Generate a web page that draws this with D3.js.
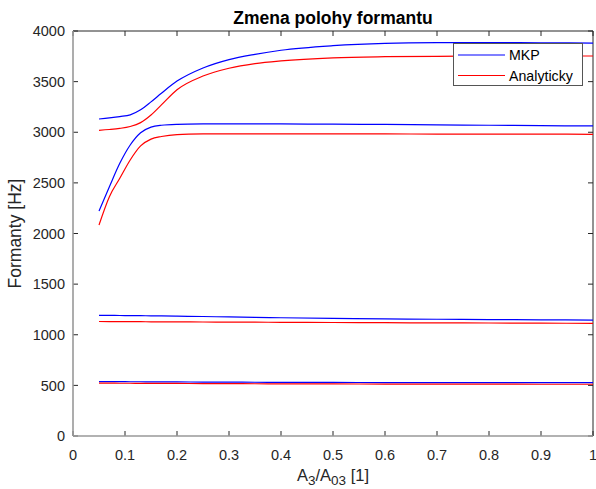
<!DOCTYPE html>
<html><head><meta charset="utf-8">
<script src="https://cdn.jsdelivr.net/npm/d3@7"></script>
<style>body{margin:0;background:#fff}svg{display:block;font-family:"Liberation Sans",Arial,sans-serif}</style>
</head><body><svg id="c" width="596" height="489"></svg>
<script>
const xs = [0.05,0.07,0.09,0.11,0.13,0.15,0.17,0.2,0.25,0.3,0.35,0.4,0.5,0.6,0.7,0.8,0.9,1.0];
// MKP (blue)
const mkpF1 = [538,537,537,536,536,535,535,534,533,532,531,530,529,528,528,527,527,527];
const mkpF2 = [1192,1191,1190,1189,1188,1187,1186,1184,1180,1176,1172,1168,1162,1157,1153,1150,1147,1145];
const mkpF3 = [2222,2462,2693,2874,2995,3050,3069,3078,3082,3083,3083,3082,3080,3077,3073,3069,3065,3062];
const mkpF4 = [3131,3142,3155,3172,3222,3300,3385,3505,3635,3718,3770,3810,3855,3878,3885,3886,3884,3881];
// Analyticky (red)
const anF1 = [522,522,521,521,520,520,519,519,518,517,516,515,514,513,512,512,511,511];
const anF2 = [1131,1130,1130,1129,1129,1128,1128,1127,1126,1125,1124,1123,1121,1119,1117,1116,1114,1113];
const anF3 = [2084,2364,2545,2726,2865,2932,2958,2977,2983,2984,2984,2984,2983,2983,2982,2982,2981,2980];
const anF4 = [3019,3027,3038,3057,3095,3170,3270,3420,3555,3632,3678,3705,3735,3746,3750,3752,3753,3753];
const xTicks = [0,0.1,0.2,0.3,0.4,0.5,0.6,0.7,0.8,0.9,1];
const yTicks = [0,500,1000,1500,2000,2500,3000,3500,4000];
const legendLabels = ["MKP","Analyticky"];
const colors = ["#0000ff","#ff0000"];

const svg = d3.select("#c");
const L=73,R=593,T=31,B=436;
const x = d3.scaleLinear().domain([0,1]).range([L,R]);
const y = d3.scaleLinear().domain([0,4000]).range([B,T]);
const ink = "#262626";

const tl = 5;
const g = svg.append("g");
xTicks.forEach(t=>{
  g.append("line").attr("x1",x(t)).attr("x2",x(t)).attr("y1",B).attr("y2",B-tl).attr("stroke",ink);
  g.append("line").attr("x1",x(t)).attr("x2",x(t)).attr("y1",T).attr("y2",T+tl).attr("stroke",ink);
  g.append("text").attr("x",x(t)).attr("y",B+24).attr("text-anchor","middle").attr("font-size",14.5).attr("fill",ink).text(t===0?"0":(t===1?"1":d3.format(".1f")(t)));
});
yTicks.forEach(t=>{
  g.append("line").attr("x1",L).attr("x2",L+tl).attr("y1",y(t)).attr("y2",y(t)).attr("stroke",ink);
  g.append("line").attr("x1",R).attr("x2",R-tl).attr("y1",y(t)).attr("y2",y(t)).attr("stroke",ink);
  g.append("text").attr("x",L-8).attr("y",y(t)).attr("dy","0.36em").attr("text-anchor","end").attr("font-size",14.5).attr("fill",ink).text(t);
});
svg.append("line").attr("x1",L).attr("x2",R).attr("y1",T).attr("y2",T).attr("stroke",ink);
svg.append("line").attr("x1",R).attr("x2",R).attr("y1",T).attr("y2",B).attr("stroke",ink);
svg.append("line").attr("x1",L).attr("x2",L).attr("y1",T).attr("y2",B).attr("stroke","#999").attr("stroke-width",1.6);
svg.append("line").attr("x1",L).attr("x2",R).attr("y1",B).attr("y2",B).attr("stroke","#999").attr("stroke-width",1.6);

const line = d3.line().x((d,i)=>x(xs[i])).y(d=>y(d)).curve(d3.curveMonotoneX);
[[mkpF1,0],[mkpF2,0],[mkpF3,0],[mkpF4,0],[anF1,1],[anF2,1],[anF3,1],[anF4,1]].forEach(([s,c])=>{
  svg.append("path").attr("d",line(s)).attr("fill","none").attr("stroke",colors[c]).attr("stroke-width",1.2);
});

svg.append("text").attr("x",(L+R)/2).attr("y",24).attr("text-anchor","middle").attr("font-weight","bold").attr("font-size",17.5).attr("fill","#000").text("Zmena polohy formantu");
const xl = svg.append("text").attr("x",(L+R)/2).attr("y",481).attr("text-anchor","middle").attr("font-size",16.5).attr("fill",ink);
xl.append("tspan").text("A");
xl.append("tspan").attr("dy",4).attr("font-size",13.5).text("3");
xl.append("tspan").attr("dy",-4).text("/A");
xl.append("tspan").attr("dy",4).attr("font-size",13.5).text("03");
xl.append("tspan").attr("dy",-4).text(" [1]");
svg.append("text").attr("transform",`translate(21,${(T+B)/2}) rotate(-90)`).attr("text-anchor","middle").attr("font-size",17.5).attr("fill",ink).text("Formanty [Hz]");

const lg = svg.append("g");
lg.append("rect").attr("x",453.5).attr("y",43.5).attr("width",129).attr("height",42).attr("fill","#fff").attr("stroke","#555");
legendLabels.forEach((lab,i)=>{
  const yy = 55+i*20.5;
  lg.append("line").attr("x1",458).attr("x2",505).attr("y1",yy).attr("y2",yy).attr("stroke",colors[i]).attr("stroke-width",1.2);
  lg.append("text").attr("x",509).attr("y",yy).attr("dy","0.36em").attr("font-size",14.2).attr("fill","#000").text(lab);
});
</script></body></html>
